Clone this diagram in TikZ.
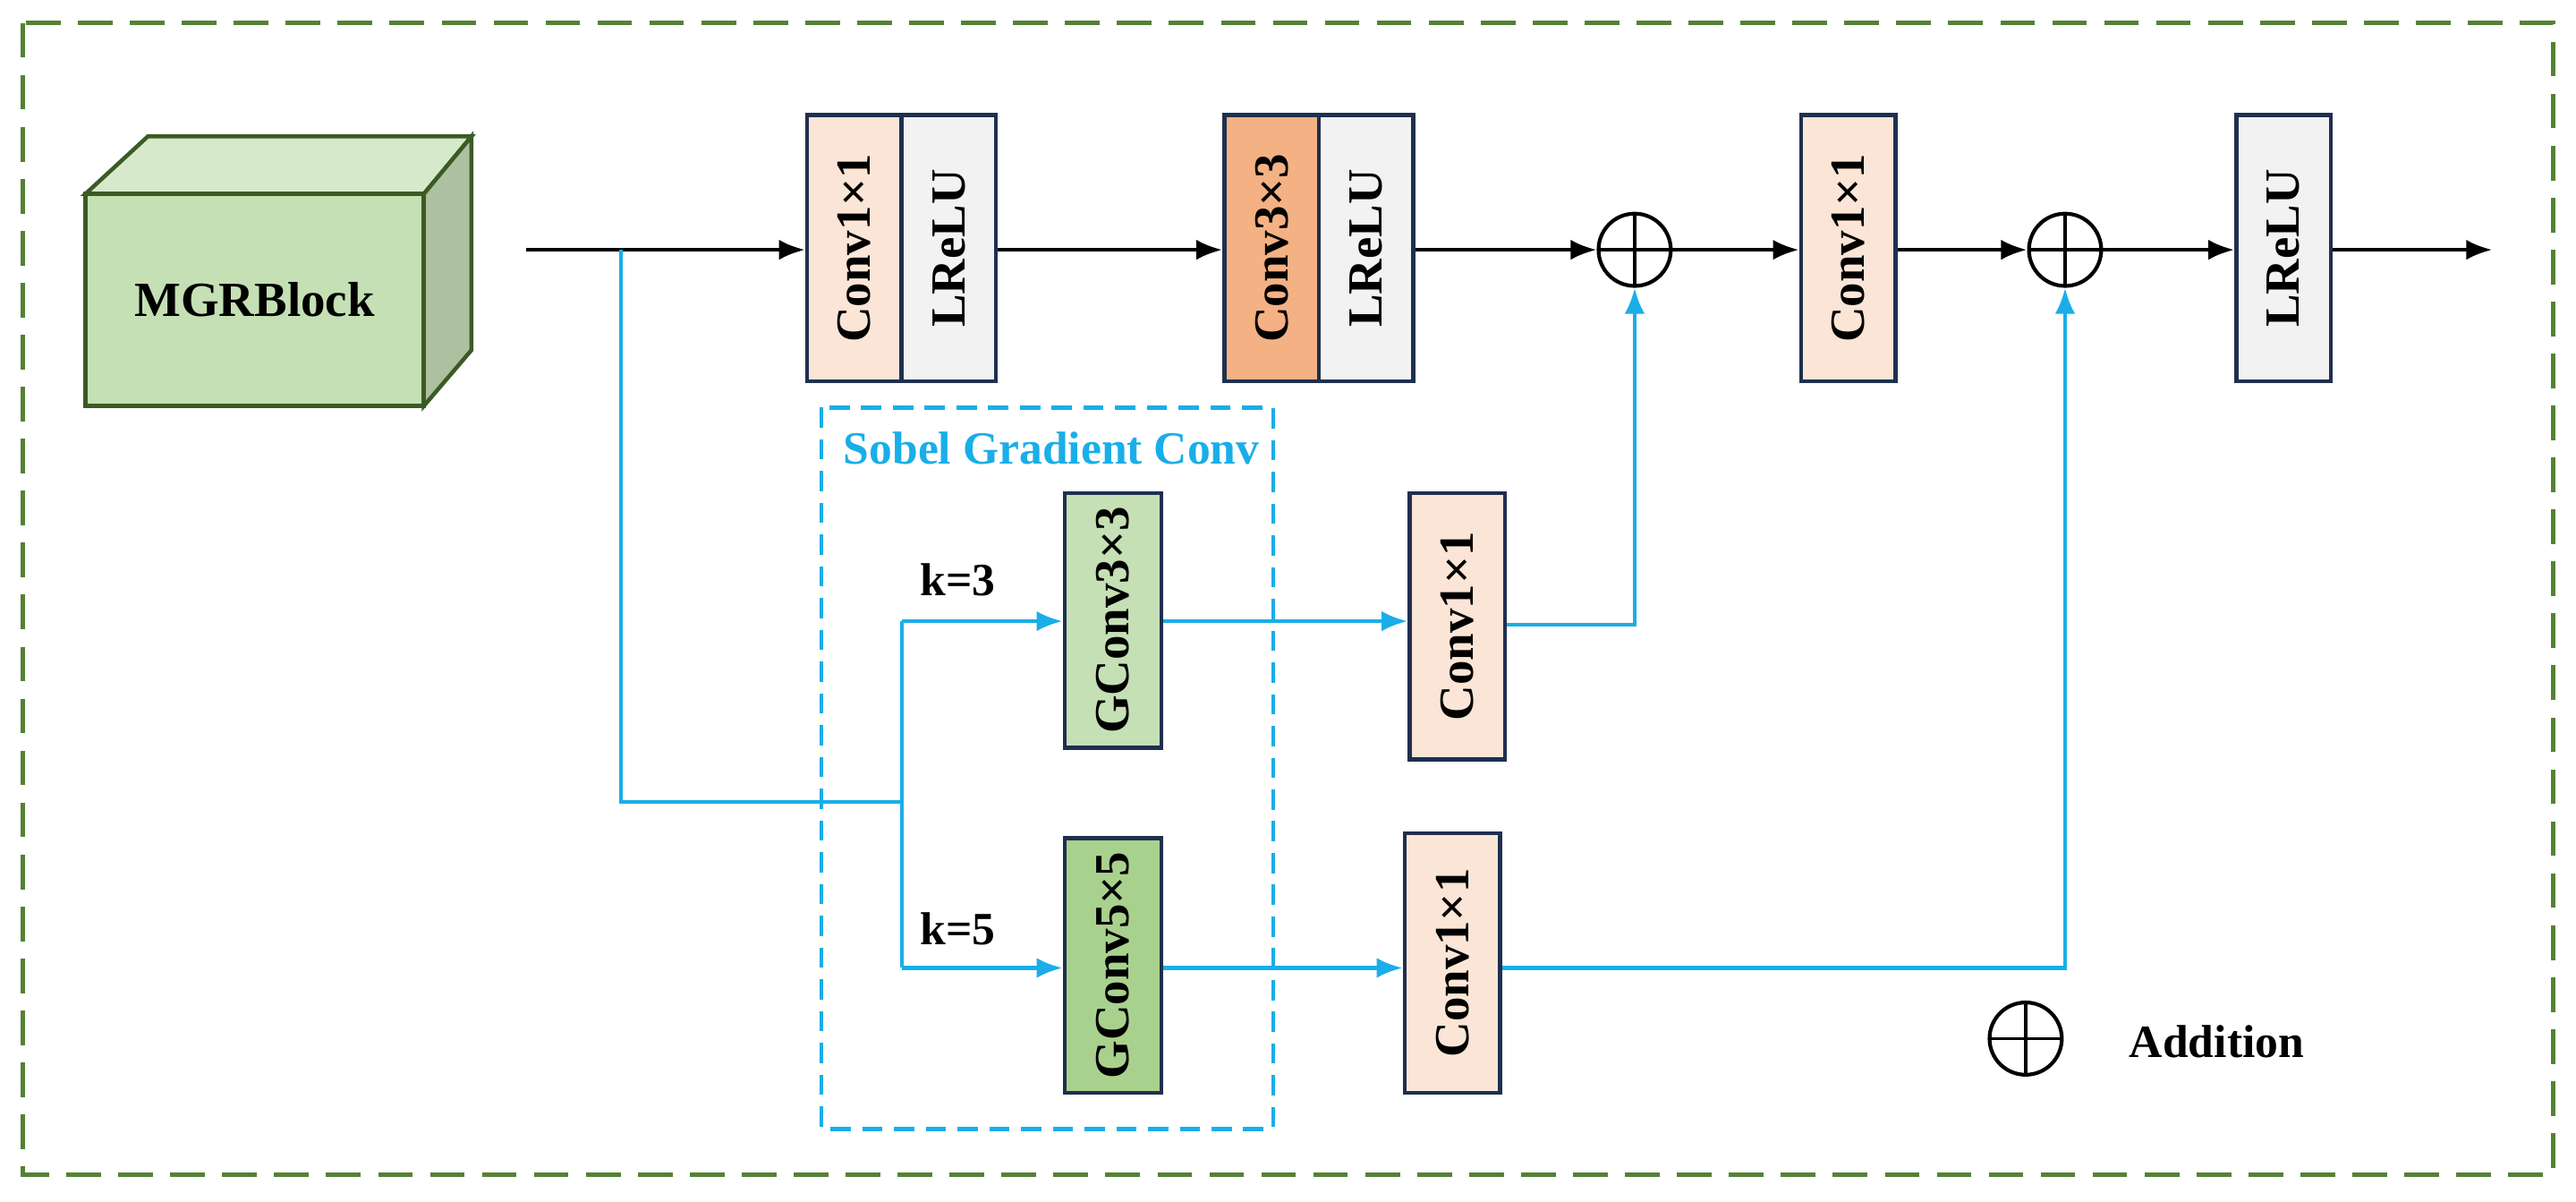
\documentclass[tikz,border=0pt]{standalone}
\usepackage{fontspec}
\setmainfont{Liberation Serif}
\usetikzlibrary{arrows.meta}
\definecolor{navy}{HTML}{1F2F4F}
\definecolor{peach}{HTML}{FBE5D6}
\definecolor{lgray}{HTML}{F2F2F2}
\definecolor{orng}{HTML}{F4B183}
\definecolor{lgreen}{HTML}{C5E0B4}
\definecolor{dgreen}{HTML}{A9D18E}
\definecolor{bgreen}{HTML}{548235}
\definecolor{sblue}{HTML}{1AAEE8}
\begin{document}
\begin{tikzpicture}[x=0.02cm,y=-0.02cm,
  blk/.style={draw=navy,line width=1.4pt,minimum width=1.15cm,inner sep=0},
  tall/.style={blk,minimum height=3.24cm},
  lab/.style={rotate=90,font=\bfseries\fontsize{17}{20}\selectfont},
  add/.style={circle,draw,line width=1.3pt,minimum size=0.88cm,inner sep=0,
    path picture={\draw[line width=1.1pt] (path picture bounding box.north)--(path picture bounding box.south)
      (path picture bounding box.west)--(path picture bounding box.east);}},
  blk arrow/.style={line width=1.3pt,-{Latex[length=9pt,width=7pt]}},
  blue arrow/.style={sblue,line width=1.3pt,-{Latex[length=9pt,width=7pt]}},
  bl/.style={sblue,line width=1.3pt}]
\useasboundingbox (0,0) rectangle (1568,731);
\draw[bgreen,line width=1.6pt,dash pattern=on 12pt off 6pt] (14,14) rectangle (1554,715);
% cube
\draw[bgreen!70!black,line width=1.4pt,fill=lgreen!70!white] (52,118)--(90,83)--(287,83)--(258,118)--cycle;
\draw[bgreen!70!black,line width=1.4pt,fill=dgreen!60!gray!80] (258,118)--(287,83)--(287,213)--(258,247)--cycle;
\node[draw=bgreen!70!black,line width=1.4pt,fill=lgreen,minimum width=4.12cm,minimum height=2.58cm,font=\bfseries\fontsize{17}{20}\selectfont] (mgr) at (155,182.5) {MGRBlock};
% top row
\node[tall,fill=peach] (c1) at (520,151) {};
\node[tall,fill=lgray] (l1) at (577.5,151) {};
\node[tall,fill=orng] (c3) at (774,151) {};
\node[tall,fill=lgray] (l2) at (831.5,151) {};
\node[tall,fill=peach] (c4) at (1125,151) {};
\node[tall,fill=lgray] (l3) at (1390,151) {};
\foreach \n/\t in {c1/Conv1×1,l1/LReLU,c3/Conv3×3,l2/LReLU,c4/Conv1×1,l3/LReLU}
  \node[lab] at (\n) {\t};
\node[add] (a1) at (995,152) {};
\node[add] (a2) at (1257,152) {};
\coordinate (in) at (320,152);
\coordinate (out) at (1517,152);
\coordinate (sp) at (378,152);
\draw[blk arrow] (in) -- (c1.west|-in);
\draw[blk arrow] (l1.east|-in) -- (c3.west|-in);
\draw[blk arrow] (l2.east|-in) -- (a1.west);
\draw[blk arrow] (a1.east) -- (c4.west|-in);
\draw[blk arrow] (c4.east|-in) -- (a2.west);
\draw[blk arrow] (a2.east) -- (l3.west|-in);
\draw[blk arrow] (l3.east|-in) -- (out);
% sobel box
\draw[sblue,line width=1.4pt,dash pattern=on 7pt off 4pt] (500,248) rectangle (775,687);
\node[sblue,font=\bfseries\fontsize{16}{19}\selectfont] (sobel) at (640,273) {Sobel Gradient Conv};
\node[blk,fill=lgreen,minimum width=1.18cm,minimum height=3.1cm] (g3) at (677.5,377.5) {};
\node[blk,fill=dgreen,minimum width=1.18cm,minimum height=3.1cm] (g5) at (677.5,587.5) {};
\node[blk,fill=peach,minimum width=1.16cm,minimum height=3.24cm] (d1) at (887,381) {};
\node[blk,fill=peach,minimum width=1.16cm,minimum height=3.16cm] (d2) at (884,586) {};
\foreach \n/\t in {g3/GConv3×3,g5/GConv5×5,d1/Conv1×1,d2/Conv1×1}
  \node[lab] at (\n) {\t};
\coordinate (jn) at (549,488);
\coordinate (k3) at (549,378);
\coordinate (k5) at (549,589);
\draw[bl] (sp) |- (jn);
\draw[bl] (k3) -- (k5);
\draw[blue arrow] (k3) -- (g3.west|-k3);
\draw[blue arrow] (k5) -- (g5.west|-k5);
\node[font=\bfseries\fontsize{16}{19}\selectfont] (t3) at (583,353) {k=3};
\node[font=\bfseries\fontsize{16}{19}\selectfont] (t5) at (583,565) {k=5};
\draw[blue arrow] (g3.east|-k3) -- (d1.west|-k3);
\draw[blue arrow] (g5.east|-k5) -- (d2.west|-k5);
\draw[blue arrow] (d1.east|-0,380) -| (a1.south);
\draw[blue arrow] (d2.east|-k5) -| (a2.south);
% legend
\node[add] (lg) at (1233,632) {};
\node[font=\bfseries\fontsize{16}{19}\selectfont,anchor=west] (lgt) at (1290,634) {Addition};
\end{tikzpicture}
\end{document}
